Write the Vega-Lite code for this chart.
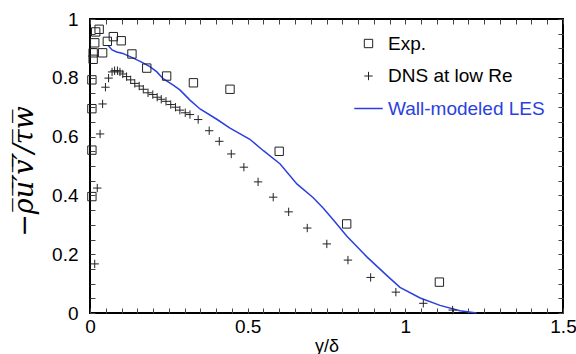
{
  "$schema": "https://vega.github.io/schema/vega-lite/v6.json",
  "width": 473,
  "height": 294,
  "autosize": {"type": "none"},
  "padding": {"left": 90, "top": 19, "right": 13, "bottom": 41},
  "background": "white",
  "config": {
    "view": {"stroke": "black", "strokeWidth": 2},
    "font": "Liberation Sans",
    "axis": {"zindex": 1},
    "legend": {
      "title": null, "orient": "none", "legendX": 269, "legendY": 15,
      "symbolSize": 70, "symbolStrokeWidth": 1, "labelFontSize": 19, "labelColor": "black",
      "labelOffset": 10, "rowPadding": 12.5, "padding": 0, "labelLimit": 300
    }
  },
  "data": {
    "values": [
      {"series": "Exp.", "yd": 0.006, "stress": 0.396},
      {"series": "Exp.", "yd": 0.006, "stress": 0.554},
      {"series": "Exp.", "yd": 0.006, "stress": 0.695},
      {"series": "Exp.", "yd": 0.006, "stress": 0.793},
      {"series": "Exp.", "yd": 0.010, "stress": 0.863},
      {"series": "Exp.", "yd": 0.010, "stress": 0.885},
      {"series": "Exp.", "yd": 0.015, "stress": 0.919},
      {"series": "Exp.", "yd": 0.018, "stress": 0.956},
      {"series": "Exp.", "yd": 0.029, "stress": 0.965},
      {"series": "Exp.", "yd": 0.040, "stress": 0.885},
      {"series": "Exp.", "yd": 0.055, "stress": 0.924},
      {"series": "Exp.", "yd": 0.074, "stress": 0.940},
      {"series": "Exp.", "yd": 0.099, "stress": 0.926},
      {"series": "Exp.", "yd": 0.133, "stress": 0.881},
      {"series": "Exp.", "yd": 0.180, "stress": 0.833},
      {"series": "Exp.", "yd": 0.243, "stress": 0.806},
      {"series": "Exp.", "yd": 0.328, "stress": 0.783},
      {"series": "Exp.", "yd": 0.444, "stress": 0.761},
      {"series": "Exp.", "yd": 0.600, "stress": 0.550},
      {"series": "Exp.", "yd": 0.814, "stress": 0.303},
      {"series": "Exp.", "yd": 1.108, "stress": 0.105},
      {"series": "DNS at low Re", "yd": 0.015, "stress": 0.167},
      {"series": "DNS at low Re", "yd": 0.023, "stress": 0.425},
      {"series": "DNS at low Re", "yd": 0.032, "stress": 0.609},
      {"series": "DNS at low Re", "yd": 0.040, "stress": 0.711},
      {"series": "DNS at low Re", "yd": 0.049, "stress": 0.768},
      {"series": "DNS at low Re", "yd": 0.059, "stress": 0.799},
      {"series": "DNS at low Re", "yd": 0.070, "stress": 0.820},
      {"series": "DNS at low Re", "yd": 0.078, "stress": 0.824},
      {"series": "DNS at low Re", "yd": 0.087, "stress": 0.824},
      {"series": "DNS at low Re", "yd": 0.095, "stress": 0.820},
      {"series": "DNS at low Re", "yd": 0.104, "stress": 0.813},
      {"series": "DNS at low Re", "yd": 0.116, "stress": 0.804},
      {"series": "DNS at low Re", "yd": 0.129, "stress": 0.793},
      {"series": "DNS at low Re", "yd": 0.142, "stress": 0.781},
      {"series": "DNS at low Re", "yd": 0.156, "stress": 0.772},
      {"series": "DNS at low Re", "yd": 0.169, "stress": 0.761},
      {"series": "DNS at low Re", "yd": 0.184, "stress": 0.749},
      {"series": "DNS at low Re", "yd": 0.199, "stress": 0.743},
      {"series": "DNS at low Re", "yd": 0.213, "stress": 0.734},
      {"series": "DNS at low Re", "yd": 0.226, "stress": 0.727},
      {"series": "DNS at low Re", "yd": 0.241, "stress": 0.720},
      {"series": "DNS at low Re", "yd": 0.256, "stress": 0.709},
      {"series": "DNS at low Re", "yd": 0.271, "stress": 0.700},
      {"series": "DNS at low Re", "yd": 0.285, "stress": 0.690},
      {"series": "DNS at low Re", "yd": 0.302, "stress": 0.681},
      {"series": "DNS at low Re", "yd": 0.317, "stress": 0.675},
      {"series": "DNS at low Re", "yd": 0.343, "stress": 0.658},
      {"series": "DNS at low Re", "yd": 0.378, "stress": 0.620},
      {"series": "DNS at low Re", "yd": 0.410, "stress": 0.584},
      {"series": "DNS at low Re", "yd": 0.448, "stress": 0.541},
      {"series": "DNS at low Re", "yd": 0.488, "stress": 0.496},
      {"series": "DNS at low Re", "yd": 0.533, "stress": 0.446},
      {"series": "DNS at low Re", "yd": 0.581, "stress": 0.394},
      {"series": "DNS at low Re", "yd": 0.630, "stress": 0.344},
      {"series": "DNS at low Re", "yd": 0.689, "stress": 0.289},
      {"series": "DNS at low Re", "yd": 0.751, "stress": 0.235},
      {"series": "DNS at low Re", "yd": 0.818, "stress": 0.180},
      {"series": "DNS at low Re", "yd": 0.890, "stress": 0.121},
      {"series": "DNS at low Re", "yd": 0.970, "stress": 0.071},
      {"series": "DNS at low Re", "yd": 1.057, "stress": 0.033},
      {"series": "DNS at low Re", "yd": 1.150, "stress": 0.010},
      {"series": "Wall-modeled LES", "yd": 0.057, "stress": 0.911},
      {"series": "Wall-modeled LES", "yd": 0.070, "stress": 0.895},
      {"series": "Wall-modeled LES", "yd": 0.085, "stress": 0.888},
      {"series": "Wall-modeled LES", "yd": 0.104, "stress": 0.883},
      {"series": "Wall-modeled LES", "yd": 0.127, "stress": 0.872},
      {"series": "Wall-modeled LES", "yd": 0.159, "stress": 0.856},
      {"series": "Wall-modeled LES", "yd": 0.190, "stress": 0.838},
      {"series": "Wall-modeled LES", "yd": 0.212, "stress": 0.820},
      {"series": "Wall-modeled LES", "yd": 0.232, "stress": 0.797},
      {"series": "Wall-modeled LES", "yd": 0.264, "stress": 0.775},
      {"series": "Wall-modeled LES", "yd": 0.285, "stress": 0.759},
      {"series": "Wall-modeled LES", "yd": 0.317, "stress": 0.724},
      {"series": "Wall-modeled LES", "yd": 0.349, "stress": 0.694},
      {"series": "Wall-modeled LES", "yd": 0.402, "stress": 0.659},
      {"series": "Wall-modeled LES", "yd": 0.444, "stress": 0.629},
      {"series": "Wall-modeled LES", "yd": 0.507, "stress": 0.591},
      {"series": "Wall-modeled LES", "yd": 0.550, "stress": 0.552},
      {"series": "Wall-modeled LES", "yd": 0.603, "stress": 0.507},
      {"series": "Wall-modeled LES", "yd": 0.656, "stress": 0.439},
      {"series": "Wall-modeled LES", "yd": 0.708, "stress": 0.392},
      {"series": "Wall-modeled LES", "yd": 0.740, "stress": 0.356},
      {"series": "Wall-modeled LES", "yd": 0.772, "stress": 0.316},
      {"series": "Wall-modeled LES", "yd": 0.814, "stress": 0.262},
      {"series": "Wall-modeled LES", "yd": 0.878, "stress": 0.191},
      {"series": "Wall-modeled LES", "yd": 0.941, "stress": 0.128},
      {"series": "Wall-modeled LES", "yd": 0.983, "stress": 0.087},
      {"series": "Wall-modeled LES", "yd": 1.047, "stress": 0.051},
      {"series": "Wall-modeled LES", "yd": 1.110, "stress": 0.026},
      {"series": "Wall-modeled LES", "yd": 1.173, "stress": 0.008},
      {"series": "Wall-modeled LES", "yd": 1.226, "stress": 0.0}
    ]
  },
  "layer": [
    {
      "transform": [{"filter": "datum.series === 'Wall-modeled LES'"}],
      "mark": {"type": "line", "strokeWidth": 1.5},
      "encoding": {
        "x": {
          "field": "yd", "type": "quantitative",
          "scale": {"domain": [0, 1.5], "nice": false, "zero": false},
          "axis": {
            "orient": "bottom", "offset": -5,
            "values": [0, 0.05, 0.1, 0.15, 0.2, 0.25, 0.3, 0.35, 0.4, 0.45, 0.5, 0.55, 0.6, 0.65, 0.7, 0.75, 0.8, 0.85, 0.9, 0.95, 1, 1.05, 1.1, 1.15, 1.2, 1.25, 1.3, 1.35, 1.4, 1.45, 1.5],
            "format": "~g",
            "labelExpr": "abs(datum.value*2 - round(datum.value*2)) < 0.001 ? datum.label : ''",
            "ticks": true, "tickSize": 5, "tickColor": "#444", "tickWidth": 1, "domain": false, "grid": false,
            "labelFontSize": 19, "labelColor": "black", "labelFlush": false, "labelOverlap": false,
            "labelPadding": 4,
            "title": "y/δ", "titleFontSize": 18, "titleFontWeight": "normal", "titleColor": "black",
            "titlePadding": 1
          }
        },
        "y": {
          "field": "stress", "type": "quantitative",
          "scale": {"domain": [0, 1], "nice": false, "zero": false},
          "axis": {
            "orient": "left", "offset": -5,
            "values": [0, 0.05, 0.1, 0.15, 0.2, 0.25, 0.3, 0.35, 0.4, 0.45, 0.5, 0.55, 0.6, 0.65, 0.7, 0.75, 0.8, 0.85, 0.9, 0.95, 1],
            "format": "~g",
            "labelExpr": "abs(datum.value*5 - round(datum.value*5)) < 0.001 ? datum.label : ''",
            "ticks": true, "tickSize": 5, "tickColor": "#444", "tickWidth": 1, "domain": false, "grid": false,
            "labelFontSize": 19, "labelColor": "black", "labelFlush": false, "labelOverlap": false,
            "labelPadding": 12,
            "title": "−ρ̅u̅′̅v̅′̅/τ̅w̅", "titleFont": "DejaVu Serif", "titleFontStyle": "italic",
            "titleFontSize": 27, "titleFontWeight": "normal", "titleColor": "black",
            "titlePadding": 13, "titleY": 152
          }
        },
        "color": {
          "field": "series", "type": "nominal",
          "scale": {"domain": ["Exp.", "DNS at low Re", "Wall-modeled LES"], "range": ["#222222", "#222222", "#2b3fe0"]},
          "legend": {
            "encode": {
              "labels": {"update": {"fill": {"signal": "datum.value === 'Wall-modeled LES' ? '#2b3fe0' : 'black'"}}},
              "symbols": {"update": {"strokeWidth": {"signal": "datum.value === 'Wall-modeled LES' ? 1.5 : 1"}}}
            }
          }
        }
      }
    },
    {
      "transform": [{"filter": "datum.series !== 'Wall-modeled LES'"}],
      "mark": {"type": "point", "filled": false, "strokeWidth": 1, "size": 70, "opacity": 1},
      "encoding": {
        "x": {
          "field": "yd", "type": "quantitative",
          "scale": {"domain": [0, 1.5], "nice": false, "zero": false},
          "axis": {
            "orient": "top", "offset": -5,
            "values": [0, 0.05, 0.1, 0.15, 0.2, 0.25, 0.3, 0.35, 0.4, 0.45, 0.5, 0.55, 0.6, 0.65, 0.7, 0.75, 0.8, 0.85, 0.9, 0.95, 1, 1.05, 1.1, 1.15, 1.2, 1.25, 1.3, 1.35, 1.4, 1.45, 1.5],
            "labels": false, "ticks": true, "tickSize": 5, "tickColor": "#444", "tickWidth": 1, "domain": false, "grid": false, "title": null
          }
        },
        "y": {
          "field": "stress", "type": "quantitative",
          "scale": {"domain": [0, 1], "nice": false, "zero": false},
          "axis": {
            "orient": "right", "offset": -5,
            "values": [0, 0.05, 0.1, 0.15, 0.2, 0.25, 0.3, 0.35, 0.4, 0.45, 0.5, 0.55, 0.6, 0.65, 0.7, 0.75, 0.8, 0.85, 0.9, 0.95, 1],
            "labels": false, "ticks": true, "tickSize": 5, "tickColor": "#444", "tickWidth": 1, "domain": false, "grid": false, "title": null
          }
        },
        "color": {
          "field": "series", "type": "nominal",
          "scale": {"domain": ["Exp.", "DNS at low Re", "Wall-modeled LES"], "range": ["#222222", "#222222", "#2b3fe0"]},
          "legend": {
            "encode": {
              "labels": {"update": {"fill": {"signal": "datum.value === 'Wall-modeled LES' ? '#2b3fe0' : 'black'"}}},
              "symbols": {"update": {"strokeWidth": {"signal": "datum.value === 'Wall-modeled LES' ? 1.5 : 1"}}}
            }
          }
        },
        "shape": {
          "field": "series", "type": "nominal",
          "scale": {"domain": ["Exp.", "DNS at low Re", "Wall-modeled LES"], "range": ["square", "M-1,0H1M0,-1V1", "M-3.4,0H3.4"]},
          "legend": {
            "encode": {
              "labels": {"update": {"fill": {"signal": "datum.value === 'Wall-modeled LES' ? '#2b3fe0' : 'black'"}}},
              "symbols": {"update": {"strokeWidth": {"signal": "datum.value === 'Wall-modeled LES' ? 1.5 : 1"}}}
            }
          }
        }
      }
    }
  ],
  "resolve": {"axis": {"x": "independent", "y": "independent"}}
}
